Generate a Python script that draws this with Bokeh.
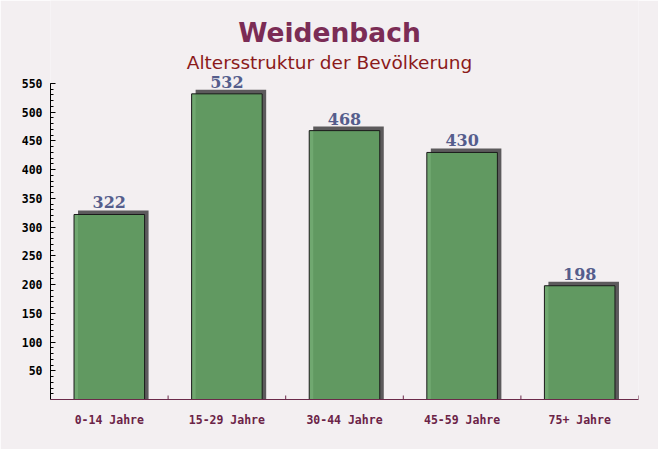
from bokeh.plotting import figure
from bokeh.models import Range1d, FactorRange, FixedTicker, ColumnDataSource, LabelSet
from bokeh.transform import dodge
from bokeh.core.properties import value
from bokeh.embed import file_html
from bokeh.resources import INLINE

# ---- data ----
categories = ["0-14 Jahre", "15-29 Jahre", "30-44 Jahre", "45-59 Jahre", "75+ Jahre"]
values = [322, 532, 468, 430, 198]
y_ticks = [50, 100, 150, 200, 250, 300, 350, 400, 450, 500, 550]
y_minor = list(range(10, 551, 10))
title_text = "Weidenbach"
subtitle_text = "Altersstruktur der Bevölkerung"

# ---- layout ----
W, H = 658, 449
LEFT, RIGHT, TOP, BOTTOM = 50, 20, 0, 50
AXIS_TOP_PX = 83                      # pixel row of the 550 tick
frame_w = W - LEFT - RIGHT
frame_h = H - TOP - BOTTOM
YMAX = 550
px_x = frame_w / len(categories)      # pixels per factor
px_y = (frame_h - AXIS_TOP_PX) / YMAX  # pixels per unit
YVIEW = frame_h / px_y                # range top so that frame reaches the top
shadow_dx = 4 / px_x
shadow_dy = 4 / px_y
tick_len = 4 / px_y

def y_at(px_row):
    return (frame_h - px_row) / px_y

BG = "#f3eff1"

src = ColumnDataSource(dict(
    cat=categories,
    val=values,
    shadow_top=[v + shadow_dy for v in values],
    lab=[str(v) for v in values],
    tick_y0=[0] * len(categories),
    tick_y1=[tick_len] * len(categories),
))

p = figure(width=W, height=H,
           x_range=FactorRange(*categories, range_padding=0),
           y_range=Range1d(0, YVIEW),
           output_backend="svg", toolbar_location=None,
           min_border_left=LEFT, min_border_right=RIGHT,
           min_border_top=TOP, min_border_bottom=BOTTOM)
p.title.visible = False
p.background_fill_color = BG
p.border_fill_color = BG
p.outline_line_color = None
p.xgrid.visible = False
p.ygrid.visible = False

# shadow
p.vbar(x=dodge('cat', shadow_dx, range=p.x_range), top='shadow_top', bottom=0,
       width=0.6, fill_color="#5c5a5c", line_color=None, source=src)
# bars
p.vbar(x='cat', top='val', bottom=0, width=0.6, fill_color="#62a062", fill_alpha=0.9,
       line_color="#1a1a1a", line_width=1, source=src)

# boundary ticks on x axis
p.segment(x0=dodge('cat', 0.5, range=p.x_range), y0='tick_y0',
          x1=dodge('cat', 0.5, range=p.x_range), y1='tick_y1',
          line_color="#6b2a4a", line_width=1, source=src)

labels = LabelSet(x='cat', y='val', text='lab', y_offset=6,
                  text_align='center', text_baseline='alphabetic',
                  text_font=value("DejaVu Serif"), text_font_style='bold',
                  text_font_size='16px', text_color="#555d8c", source=src)
p.add_layout(labels)

# titles
mid = categories[len(categories) // 2]
center_shift = (W / 2) - (LEFT + frame_w / 2)
tsrc = ColumnDataSource(dict(x=[mid], y=[y_at(41.5)], t=[title_text]))
ssrc = ColumnDataSource(dict(x=[mid], y=[y_at(68.5)], t=[subtitle_text]))
p.add_layout(LabelSet(x='x', y='y', text='t', source=tsrc, x_offset=center_shift,
                      text_align='center', text_baseline='alphabetic',
                      text_font=value("DejaVu Sans"), text_font_style='bold',
                      text_font_size='26.5px', text_color="#7b2c55"))
p.add_layout(LabelSet(x='x', y='y', text='t', source=ssrc, x_offset=center_shift,
                      text_align='center', text_baseline='alphabetic',
                      text_font=value("DejaVu Sans"), text_font_style='normal',
                      text_font_size='18.5px', text_color="#8b1a1a"))

# y axis
ya = p.yaxis[0]
ya.bounds = (0, YMAX)
ya.ticker = FixedTicker(ticks=y_ticks, minor_ticks=y_minor)
ya.major_tick_in = 5
ya.major_tick_out = 0
ya.minor_tick_in = 3
ya.minor_tick_out = 0
ya.axis_line_color = "black"
ya.major_tick_line_color = "black"
ya.minor_tick_line_color = "black"
ya.major_label_text_font = "DejaVu Sans Mono"
ya.major_label_text_font_style = "bold"
ya.major_label_text_font_size = "11.5px"
ya.major_label_text_color = "black"
ya.major_label_standoff = 8

# x axis
xa = p.xaxis[0]
xa.major_tick_line_color = None
xa.minor_tick_line_color = None
xa.axis_line_color = "#6b2a4a"
xa.major_label_text_font = "DejaVu Sans Mono"
xa.major_label_text_font_style = "bold"
xa.major_label_text_font_size = "11.5px"
xa.major_label_text_color = "#6b2347"
xa.major_label_standoff = 7

open("out.html", "w").write(file_html(p, INLINE))
